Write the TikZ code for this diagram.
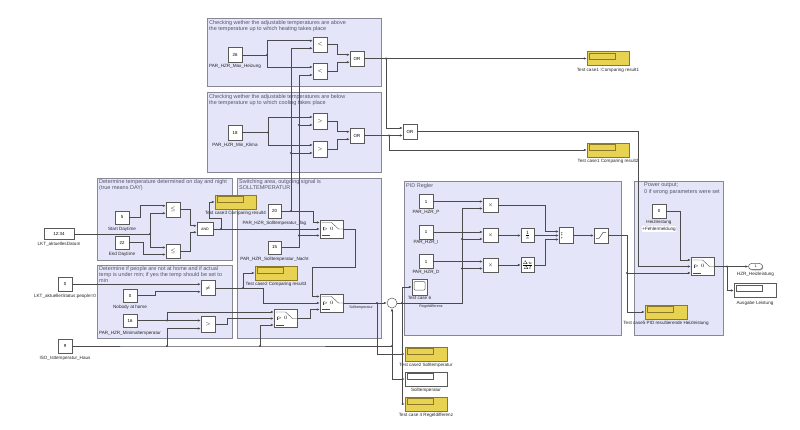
\documentclass[tikz,border=0pt]{standalone}
\usepackage{fontspec}
\setmainfont{Liberation Sans}
\usetikzlibrary{arrows.meta,shadows}
\definecolor{areafill}{RGB}{229,229,250}
\definecolor{areaborder}{RGB}{135,135,150}
\definecolor{dispy}{RGB}{232,210,82}
\definecolor{dispb}{RGB}{140,120,40}
\definecolor{wirecol}{RGB}{75,75,75}
\definecolor{ttlcol}{RGB}{85,85,105}
\definecolor{blkb}{RGB}{90,90,90}
\newcommand\lblf{\fontsize{4.6}{5.2}\selectfont}
\newcommand\ttlf{\fontsize{5.5}{6.3}\selectfont}
\newcommand\blkf{\fontsize{4.4}{5}\selectfont}
\newcommand\tinyf{\fontsize{3.6}{4}\selectfont}
\tikzset{
 area/.style={draw=areaborder, fill=areafill, line width=0.7pt, anchor=north west, inner sep=0pt},
 ttl/.style={anchor=north west, align=left, font=\ttlf, text=ttlcol, inner sep=0pt},
 lbl/.style={font=\lblf, inner sep=0pt, text=black!85},
 blk/.style={draw=blkb, fill=white, line width=0.5pt, inner sep=0pt, font=\blkf,
   drop shadow={shadow xshift=0.8pt,shadow yshift=-0.8pt,fill=black!45,opacity=0.8}},
 wire/.style={draw=wirecol, line width=0.65pt},
 arr/.style={wire, -{Latex[length=3pt,width=2.6pt]}},
 jdot/.style={circle, fill=wirecol, inner sep=0pt, minimum size=2.3pt},
 dispyel/.style={blk, fill=dispy, draw=dispb, minimum width=42, minimum height=14,
   path picture={\draw[dispb, line width=0.6pt] ([xshift=2pt,yshift=-1.5pt]path picture bounding box.north west) rectangle ([xshift=28pt,yshift=-7.5pt]path picture bounding box.north west);}},
 dispwht/.style={blk, fill=white, minimum width=42, minimum height=14,
   path picture={\draw[blkb, line width=0.5pt] ([xshift=2pt,yshift=-1.5pt]path picture bounding box.north west) rectangle ([xshift=28pt,yshift=-7.5pt]path picture bounding box.north west);}},
 swb/.style={blk, minimum width=23, minimum height=18,
   path picture={
     \draw[wirecol, line width=0.4pt] ([xshift=-10pt,yshift=6.5pt]path picture bounding box.center) -- ([xshift=0pt,yshift=6.5pt]path picture bounding box.center) -- ([xshift=7pt]path picture bounding box.center) -- ([xshift=11.5pt]path picture bounding box.center);
     \draw[wirecol, line width=0.4pt] ([xshift=-10pt,yshift=-6.5pt]path picture bounding box.center) -- ([xshift=-2pt,yshift=-6.5pt]path picture bounding box.center);
     \draw[wirecol, line width=0.4pt] ([xshift=-8pt,yshift=1.5pt]path picture bounding box.center) -- ([xshift=-8pt,yshift=-1.5pt]path picture bounding box.center);
     \node[font=\tinyf, inner sep=0pt] at ([xshift=-3.5pt]path picture bounding box.center) {$>0$};}},
 satb/.style={blk, minimum width=14, minimum height=15,
   path picture={\draw[wirecol, line width=0.5pt] ([xshift=-5pt,yshift=-3pt]path picture bounding box.center) -- ([xshift=-2pt,yshift=-3pt]path picture bounding box.center) -- ([xshift=2pt,yshift=3pt]path picture bounding box.center) -- ([xshift=5pt,yshift=3pt]path picture bounding box.center);}},
 scopeb/.style={blk, minimum width=15, minimum height=16,
   path picture={\draw[blkb, line width=0.5pt, rounded corners=1pt] ([xshift=-5.5pt,yshift=5.5pt]path picture bounding box.center) rectangle ([xshift=5.5pt,yshift=-3pt]path picture bounding box.center);}},
}
\begin{document}
\begin{tikzpicture}[x=1pt,y=-1pt]
\useasboundingbox (0,0) rectangle (800,430);
% ---------------- areas ----------------
\node[area, minimum width=174, minimum height=68] (A1) at (207,18) {};
\node[area, minimum width=174, minimum height=80] (A2) at (207,92) {};
\node[area, minimum width=135, minimum height=82] (A3) at (97,178) {};
\node[area, minimum width=135, minimum height=73] (A4) at (97,265) {};
\node[area, minimum width=144, minimum height=160] (A5) at (237,178) {};
\node[area, minimum width=217, minimum height=154] (A6) at (404,181) {};
\node[area, minimum width=89, minimum height=154] (A7) at (634,181) {};
\node[ttl] (T1) at (209,20) {Checking wether the adjustable temperatures are above\\the temperature up to which heating takes place};
\node[ttl] (T2) at (209,94) {Checking wether the adjustable temperatures are below\\the temperature up to which cooling takes place};
\node[ttl] (T3) at (99,179) {Determine temperature determined on day and night\\ (true means DAY)};
\node[ttl] (T4) at (99,266) {Determine if people are not at home and if actual\\temp is under min; if yes the temp should be set to\\min};
\node[ttl] (T5) at (239,179) {Switching area, outgoing signal is\\SOLLTEMPERATUR};
\node[ttl] (T6) at (406,183) {PID Regler};
\node[ttl] (T7) at (644,183) {Power output;\\0 if wrong parameters were set};
% ---------------- heating ----------------
\node[blk, minimum width=14, minimum height=15] (c26) at (235,55) {26};
\node[lbl] (l26) at (235,66) {PAR\_HZR\_Max\_Heizung};
\node[blk, minimum width=14, minimum height=15] (lt1) at (320,44.5) {$<$};
\node[blk, minimum width=14, minimum height=16] (lt2) at (320,71) {$<$};
\node[blk, minimum width=14, minimum height=15] (or1) at (357,58.5) {OR};
% ---------------- cooling ----------------
\node[blk, minimum width=14, minimum height=15] (c18) at (235,132.5) {18};
\node[lbl] (l18) at (235,145) {PAR\_HZR\_Min\_Klima};
\node[blk, minimum width=14, minimum height=16] (gt1) at (320,121) {$>$};
\node[blk, minimum width=14, minimum height=16] (gt2) at (320,149) {$>$};
\node[blk, minimum width=14, minimum height=15] (or2) at (357,135.5) {OR};
\node[blk, minimum width=14, minimum height=15] (or3) at (410,131.75) {OR};
\node[dispyel] (d1) at (608,58.5) {};
\node[lbl] (ld1) at (608,70) {Test case1 :Comparing result1};
\node[dispyel] (d2) at (608,150) {};
\node[lbl] (ld2) at (608,161) {Test case1 Comparing result2};
% ---------------- day / night ----------------
\node[blk, minimum width=30, minimum height=11] (clk) at (59,234) {12:34};
\node[lbl] (lclk) at (59,244) {LKT\_aktuellesDatum};
\node[blk, minimum width=14, minimum height=13] (c5) at (122,217.5) {5};
\node[lbl] (l5) at (122,229) {Start Daytime};
\node[blk, minimum width=14, minimum height=13] (c22) at (122,242.5) {22};
\node[lbl] (l22) at (122,254) {End Daytime};
\node[blk, minimum width=14, minimum height=15] (le1) at (173,209.5) {$\leq$};
\node[blk, minimum width=14, minimum height=14] (le2) at (173,251) {$\leq$};
\node[blk, minimum width=16, minimum height=13, font=\tinyf] (and) at (205,229) {AND};
\node[dispyel, minimum width=41] (d3) at (235.5,202) {};
\node[lbl] (ld3) at (235.5,213) {Test case3 Comparing result4};
% ---------------- people ----------------
\node[blk, minimum width=14, minimum height=14] (c0s) at (65,284.25) {0};
\node[lbl] (l0s) at (65,296) {LKT\_aktuellerStatus:people=0};
\node[blk, minimum width=14, minimum height=13] (c0n) at (130,295.5) {0};
\node[lbl] (l0n) at (130,307) {Nobody at home};
\node[blk, minimum width=14, minimum height=13] (c16) at (130,320.5) {16};
\node[lbl] (l16) at (130,333) {PAR\_HZR\_Minimaltemperatur};
\node[blk, minimum width=14, minimum height=15] (ne) at (208,288) {$\neq$};
\node[blk, minimum width=14, minimum height=16] (gt3) at (208,324.5) {$>$};
\node[blk, minimum width=14, minimum height=14] (c9) at (65,346) {9};
\node[lbl] (l9) at (65,358) {ISO\_Isttemperatur\_Haus};
% ---------------- switching ----------------
\node[blk, minimum width=13, minimum height=14] (c20) at (274.5,211) {20};
\node[lbl] (l20) at (274.5,223) {PAR\_HZR\_Solltemperatur\_Tag};
\node[blk, minimum width=13, minimum height=13] (c15) at (274.5,247.5) {15};
\node[lbl] (l15) at (274.5,259) {PAR\_HZR\_Solltemperatur\_Nacht};
\node[swb] (sw1) at (331.5,229) {};
\node[dispyel] (d4) at (276,273) {};
\node[lbl] (ld4) at (276,284.5) {Test case2 Comparing result3};
\node[swb] (sw2) at (285.5,318.5) {};
\node[swb] (sw3) at (331.5,303) {};
\node[circle, draw=blkb, fill=white, line width=0.5pt, minimum size=10, inner sep=0pt, font=\tinyf] (sum) at (392,303) {};
\node[lbl, font=\tinyf] (lsoll) at (361,307.5) {Solltemperatur};
\node[dispyel] (d5) at (426,354) {};
\node[lbl] (ld5) at (426,365) {Test case2 Solltemperatur};
\node[dispwht] (d6) at (426,379) {};
\node[lbl] (ld6) at (426,390) {Solltemperatur};
\node[dispyel] (d7) at (426,404) {};
\node[lbl] (ld7) at (426,415.5) {Test case 4 Regeldifferenz};
% ---------------- PID ----------------
\node[blk, minimum width=14, minimum height=14] (cP) at (426,201.5) {1};
\node[lbl] (lP) at (426,212.5) {PAR\_HZR\_P};
\node[blk, minimum width=14, minimum height=14] (cI) at (426,232) {1};
\node[lbl] (lI) at (426,242.5) {PAR\_HZR\_I};
\node[blk, minimum width=14, minimum height=14] (cD) at (426,261.5) {1};
\node[lbl] (lD) at (426,272.5) {PAR\_HZR\_D};
\node[blk, minimum width=15, minimum height=14] (m1) at (490.5,205) {$\times$};
\node[blk, minimum width=15, minimum height=14] (m2) at (490.5,235.5) {$\times$};
\node[blk, minimum width=15, minimum height=14] (m3) at (490.5,265) {$\times$};
\node[blk, minimum width=13, minimum height=14, font=\tinyf] (integ) at (527.5,235.5) {$\frac{1}{s}$};
\node[blk, minimum width=13, minimum height=15, font=\tinyf] (deriv) at (527.5,265) {$\frac{\Delta u}{\Delta t}$};
\node[blk, minimum width=14, minimum height=16] (sum3) at (566,235.5) {};
\node[font=\tinyf, inner sep=0pt, align=center] (sum3s) at (562,235.5) {+\\[-1.5pt]+\\[-1.5pt]+};
\node[satb] (sat) at (601,235.5) {};
\node[scopeb] (scope) at (419.5,287) {};
\node[lbl] (lsc) at (419.5,297.5) {Test case 6};
\node[lbl, font=\tinyf] (lreg) at (431,306.5) {Regeldifferenz};
% ---------------- power ----------------
\node[blk, minimum width=14, minimum height=14] (c0p) at (659,211) {0};
\node[lbl] (l0p) at (659,222) {Heizleistung};
\node[lbl, fill=white, inner sep=0.5pt] (l0p2) at (659,229) {+Fehlermeldung};
\node[swb] (swp) at (702.5,266.5) {};
\node[blk, minimum width=14, minimum height=6, rounded corners=3pt, font=\tinyf] (outp) at (755.5,266.5) {1};
\node[lbl] (lout) at (755.5,274) {HZR\_Heizleistung};
\node[dispwht] (d8) at (755,290.5) {};
\node[lbl] (ld8) at (755,303) {Ausgabe Leistung};
\node[dispyel] (d9) at (666,312) {};
\node[lbl] (ld9) at (666,323) {Test case5 PID resultierende Heizleistung};
% ---------------- ports ----------------
\coordinate (lt1a) at ([yshift=3.75pt]lt1.west);
\coordinate (lt1b) at ([yshift=-3.75pt]lt1.west);
\coordinate (lt2a) at ([yshift=4pt]lt2.west);
\coordinate (lt2b) at ([yshift=-4pt]lt2.west);
\coordinate (gt1a) at ([yshift=4pt]gt1.west);
\coordinate (gt1b) at ([yshift=-4pt]gt1.west);
\coordinate (gt2a) at ([yshift=4pt]gt2.west);
\coordinate (gt2b) at ([yshift=-4pt]gt2.west);
\coordinate (or1a) at ([yshift=3.75pt]or1.west);
\coordinate (or1b) at ([yshift=-3.75pt]or1.west);
\coordinate (or2a) at ([yshift=3.75pt]or2.west);
\coordinate (or2b) at ([yshift=-3.75pt]or2.west);
\coordinate (or3a) at ([yshift=3.75pt]or3.west);
\coordinate (or3b) at ([yshift=-3.75pt]or3.west);
\coordinate (le1a) at ([yshift=3.75pt]le1.west);
\coordinate (le1b) at ([yshift=-3.75pt]le1.west);
\coordinate (le2a) at ([yshift=3.5pt]le2.west);
\coordinate (le2b) at ([yshift=-3.5pt]le2.west);
\coordinate (anda) at ([yshift=3.25pt]and.west);
\coordinate (andb) at ([yshift=-3.25pt]and.west);
\coordinate (nea) at ([yshift=3.75pt]ne.west);
\coordinate (neb) at ([yshift=-3.75pt]ne.west);
\coordinate (gt3a) at ([yshift=4pt]gt3.west);
\coordinate (gt3b) at ([yshift=-4pt]gt3.west);
\coordinate (sw1a) at ([yshift=6.5pt]sw1.west);
\coordinate (sw1b) at (sw1.west);
\coordinate (sw1c) at ([yshift=-6.5pt]sw1.west);
\coordinate (sw2a) at ([yshift=6.5pt]sw2.west);
\coordinate (sw2b) at (sw2.west);
\coordinate (sw2c) at ([yshift=-6.5pt]sw2.west);
\coordinate (sw3a) at ([yshift=6.5pt]sw3.west);
\coordinate (sw3b) at (sw3.west);
\coordinate (sw3c) at ([yshift=-6.5pt]sw3.west);
\coordinate (swpa) at ([yshift=6.5pt]swp.west);
\coordinate (swpb) at (swp.west);
\coordinate (swpc) at ([yshift=-6.5pt]swp.west);
\coordinate (m1a) at ([yshift=3.5pt]m1.west);
\coordinate (m1b) at ([yshift=-3.5pt]m1.west);
\coordinate (m2a) at ([yshift=3.5pt]m2.west);
\coordinate (m2b) at ([yshift=-3.5pt]m2.west);
\coordinate (m3a) at ([yshift=3.5pt]m3.west);
\coordinate (m3b) at ([yshift=-3.5pt]m3.west);
\coordinate (s3a) at ([yshift=4pt]sum3.west);
\coordinate (s3b) at (sum3.west);
\coordinate (s3c) at ([yshift=-4pt]sum3.west);
% ---------------- junctions ----------------
\node[jdot] (j26) at (267,55) {};
\node[jdot] (j18) at (268,132.5) {};
\node[jdot] (j20) at (291,211) {};
\node[jdot] (jV1) at (291,153) {};
\node[jdot] (j15) at (299,235.5) {};
\node[jdot] (jV2) at (299,125) {};
\node[jdot] (jor1) at (386,58.5) {};
\node[jdot] (jor2) at (389,135.5) {};
\node[jdot] (jclk) at (150,234) {};
\node[jdot] (jand) at (221,229) {};
\node[jdot] (jne) at (243,288) {};
\node[jdot] (j16) at (167,320.5) {};
\node[jdot] (j9a) at (167,346) {};
\node[jdot] (j9b) at (260,346) {};
\node[jdot] (j9c) at (392,346) {};
\node[jdot] (jsw3) at (377,303) {};
\node[jdot] (jsum) at (402,303) {};
\node[jdot] (jm2) at (462,239) {};
\node[jdot] (jm3) at (462,268.5) {};
\node[jdot] (jsat) at (627,273) {};
\node[jdot] (jswp) at (727,266.5) {};
\coordinate (k1) at (638,266.5);
% ---------------- wires: heating / cooling ----------------
\draw[wire] (c26.east) -- (j26.center);
\draw[arr] (j26.center) |- (lt1a);
\draw[arr] (j26.center) |- (lt2a);
\draw[wire] (c18.east) -- (j18.center);
\draw[arr] (j18.center) |- (gt1a);
\draw[arr] (j18.center) |- (gt2a);
\draw[wire] (c20.east) -- (j20.center);
\draw[arr] (j20.center) -- (313,211) |- (sw1a);
\draw[wire] (j20.center) -- (jV1.center);
\draw[arr] (jV1.center) -- (gt2b);
\draw[arr] (jV1.center) |- (lt1b);
\draw[wire] (c15.east) -| (j15.center);
\draw[arr] (j15.center) -- (sw1c);
\draw[wire] (j15.center) -- (jV2.center);
\draw[arr] (jV2.center) -- (gt1b);
\draw[arr] (jV2.center) |- (lt2b);
\draw[arr] (lt1.east) -- (337,44.5) |- (or1a);
\draw[arr] (lt2.east) -- (337,71) |- (or1b);
\draw[arr] (gt1.east) -- (337,121) |- (or2a);
\draw[arr] (gt2.east) -- (337,149) |- (or2b);
\draw[wire] (or1.east) -- (jor1.center);
\draw[arr] (jor1.center) -- (d1.west);
\draw[arr] (jor1.center) |- (or3a);
\draw[wire] (or2.east) -- (jor2.center);
\draw[arr] (jor2.center) -- (or3b);
\draw[arr] (jor2.center) |- (d2.west);
\draw[arr] (or3.east) -| (k1) -- (swpb);
% ---------------- wires: day / night ----------------
\draw[wire] (clk.east) -- (jclk.center);
\draw[arr] (jclk.center) |- (le1b);
\draw[arr] (jclk.center) |- (le2a);
\draw[arr] (c5.east) -- (140,217.5) |- (le1a);
\draw[arr] (c22.east) -- (143,242.5) |- (le2b);
\draw[arr] (le1.east) -- (190,209.5) |- (anda);
\draw[arr] (le2.east) -- (190,251) |- (andb);
\draw[wire] (and.east) -- (jand.center);
\draw[arr] (jand.center) -- (sw1b);
\draw[arr] (jand.center) -- (221,218) -- (209,218) |- (d3.west);
% ---------------- wires: people / switching ----------------
\draw[arr] (c0s.east) -- (nea);
\draw[arr] (c0n.east) -- (155,295.5) |- (neb);
\draw[wire] (c16.east) -- (j16.center);
\draw[arr] (j16.center) -- (gt3a);
\draw[arr] (j16.center) |- (sw2a);
\draw[wire] (c9.east) -- (j9a.center) -- (j9b.center) -- (j9c.center);
\draw[arr] (j9a.center) |- (gt3b);
\draw[arr] (j9b.center) |- (sw2c);
\draw[arr] (j9c.center) -- (sum.south);
\draw[arr] (j9c.center) |- (d6.west);
\draw[wire] (ne.east) -- (jne.center);
\draw[arr] (jne.center) -- (263,288) |- (sw3b);
\draw[arr] (jne.center) |- (d4.west);
\draw[arr] (gt3.east) -- (227,324.5) |- (sw2b);
\draw[arr] (sw2.east) -- (310,318.5) |- (sw3c);
\draw[arr] (sw1.east) -- (355,229) -- (355,267) -- (312,267) |- (sw3a);
\draw[wire] (sw3.east) -- (jsw3.center);
\draw[arr] (jsw3.center) -- (sum.west);
\draw[arr] (jsw3.center) |- (d5.west);
% ---------------- wires: PID ----------------
\draw[wire] (sum.east) -- (jsum.center);
\draw[arr] (jsum.center) |- (scope.west);
\draw[arr] (jsum.center) |- (d7.west);
\draw[wire] (jsum.center) -| (jm3.center);
\draw[wire] (jm3.center) -- (jm2.center);
\draw[arr] (jm2.center) |- (m1b);
\draw[arr] (jm2.center) -- (m2b);
\draw[arr] (jm3.center) -- (m3b);
\draw[arr] (cP.east) -- (m1a);
\draw[arr] (cI.east) -- (m2a);
\draw[arr] (cD.east) -- (m3a);
\draw[arr] (m1.east) -- (545,205) |- (s3a);
\draw[arr] (m2.east) -- (integ.west);
\draw[arr] (m3.east) -- (deriv.west);
\draw[arr] (integ.east) -- (s3b);
\draw[arr] (deriv.east) -- (545,265) |- (s3c);
\draw[arr] (sum3.east) -- (sat.west);
\draw[wire] (sat.east) -| (jsat.center);
\draw[arr] (jsat.center) -- (swpc);
\draw[arr] (jsat.center) |- (d9.west);
% ---------------- wires: power ----------------
\draw[arr] (c0p.east) -- (680,211) |- (swpa);
\draw[wire] (swp.east) -- (jswp.center);
\draw[arr] (jswp.center) -- (outp.west);
\draw[arr] (jswp.center) |- (d8.west);
\end{tikzpicture}
\end{document}
